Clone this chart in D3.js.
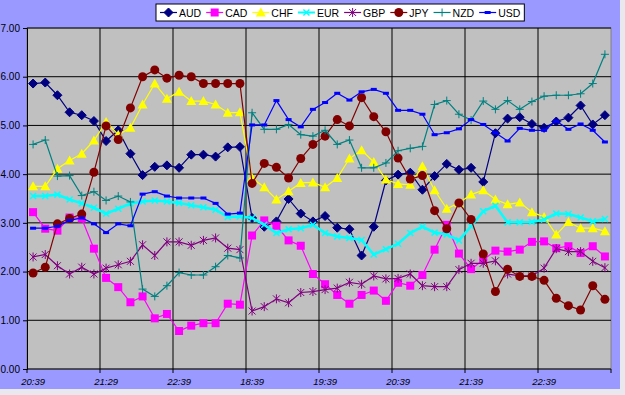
<!DOCTYPE html>
<meta charset="utf-8">
<style>
body{ margin: 0; background: #e8e8ee; }
text{ font-family: "Liberation Sans", Arial, sans-serif; }
.grid line{ stroke: #000; stroke-width: 1; }
</style>
<body>
<script src="https://cdn.jsdelivr.net/npm/d3@7"></script>
<script>

var width = 625,
    height = 395;

var margin = {top: 28, right: 14, bottom: 26, left: 27};

// every 6th category carries a label
var tickLabels = ["20:39", "21:29", "22:39", "18:39", "19:39", "20:39", "21:39", "22:39"];
var nPoints = 48;

var aud = [5.86,5.88,5.62,5.27,5.21,5.09,4.68,4.90,4.42,3.98,4.15,4.18,4.13,4.40,4.40,4.36,4.55,4.56,
  3.10,2.92,3.03,3.49,3.19,3.03,3.14,2.90,2.87,2.33,2.92,3.87,3.99,4.03,3.68,3.96,4.21,4.09,4.13,3.84,
  4.84,5.14,5.17,5.03,4.95,5.08,5.16,5.41,5.02,5.21];
var cad = [3.22,2.88,2.84,3.11,3.09,2.47,1.87,1.68,1.37,1.49,1.04,1.13,0.78,0.89,0.94,0.94,1.34,1.32,
  2.74,3.05,2.94,2.64,2.53,1.95,1.74,1.52,1.34,1.52,1.61,1.40,1.77,1.71,1.93,2.45,2.96,2.37,2.05,2.24,
  2.43,2.41,2.45,2.61,2.62,2.48,2.52,2.38,2.52,2.31];
var chf = [3.75,3.75,4.11,4.28,4.42,4.69,5.07,4.81,4.95,5.43,5.86,5.55,5.69,5.50,5.50,5.43,5.26,5.27,
  3.92,3.73,3.48,3.65,3.82,3.83,3.73,3.92,4.32,4.49,4.25,3.89,3.80,3.78,4.16,3.67,3.29,3.41,3.58,3.67,
  3.48,3.38,3.42,3.22,3.12,2.76,3.02,2.89,2.89,2.83];
var eur = [3.55,3.55,3.58,3.48,3.40,3.31,3.19,3.29,3.40,3.44,3.46,3.44,3.41,3.36,3.32,3.27,3.12,3.13,
  3.10,2.96,2.79,2.87,2.89,2.96,2.79,2.72,2.69,2.65,2.35,2.46,2.57,2.79,2.92,2.80,2.76,2.64,2.93,3.24,
  3.35,3.01,3.01,3.02,3.07,3.19,3.18,3.11,3.03,3.08];
var gbp = [2.30,2.35,2.12,1.95,2.09,1.95,2.07,2.14,2.21,2.55,2.33,2.61,2.61,2.54,2.64,2.69,2.48,2.45,
  1.19,1.28,1.44,1.36,1.57,1.59,1.63,1.66,1.78,1.74,1.91,1.85,1.86,1.95,1.71,1.69,1.69,2.04,2.17,2.17,
  2.22,1.95,1.91,1.91,2.07,2.47,2.41,2.41,2.21,2.08];
var jpy = [1.97,2.09,2.98,3.09,3.18,4.04,4.99,4.71,5.36,6.00,6.14,5.97,6.03,6.00,5.86,5.86,5.86,5.86,
  3.81,4.22,4.14,3.92,4.32,4.61,4.78,5.12,4.99,5.57,5.18,4.87,4.33,3.90,3.97,3.25,2.88,3.41,3.07,2.36,
  1.59,2.05,1.90,1.90,1.82,1.45,1.30,1.21,1.71,1.43];
var nzd = [4.61,4.70,3.96,3.97,3.56,3.64,3.46,3.55,3.43,1.64,1.49,1.71,1.98,1.93,1.93,2.10,2.33,2.28,
  5.26,4.92,4.92,5.02,4.81,4.78,4.90,4.61,4.70,4.13,4.13,4.23,4.48,4.53,4.57,5.43,5.51,5.23,5.11,5.50,
  5.33,5.51,5.33,5.49,5.60,5.62,5.62,5.65,5.86,6.46];
var usd = [2.89,2.89,2.93,3.05,3.10,2.98,2.80,2.98,2.94,3.59,3.64,3.55,3.51,3.51,3.51,3.40,3.18,3.20,
  5.01,5.01,5.51,5.12,4.97,5.33,5.47,5.66,5.52,5.69,5.74,5.66,5.31,5.31,5.23,4.81,4.85,4.93,5.12,5.02,
  4.85,4.68,4.94,4.90,4.90,5.09,4.92,5.03,4.90,4.66];

var series = [
  {name: "AUD", values: aud, color: "#000080", marker: "diamond"},
  {name: "CAD", values: cad, color: "#ff00ff", marker: "square"},
  {name: "CHF", values: chf, color: "#ffff00", marker: "triangle"},
  {name: "EUR", values: eur, color: "#00ffff", marker: "x"},
  {name: "GBP", values: gbp, color: "#800080", marker: "star"},
  {name: "JPY", values: jpy, color: "#800000", marker: "circle"},
  {name: "NZD", values: nzd, color: "#008080", marker: "plus"},
  {name: "USD", values: usd, color: "#0000ff", marker: "dash"}
];

var svg = d3.select("body").append("svg")
    .attr("width", width)
    .attr("height", height);

// chart area
svg.append("rect")
    .attr("x", 0).attr("y", 0)
    .attr("width", 620).attr("height", 389)
    .attr("fill", "#9999ff");

var pw = width - margin.left - margin.right,
    ph = 369 - margin.top;

var x = d3.scaleBand()
    .domain(d3.range(nPoints))
    .range([margin.left, margin.left + pw]);

var y = d3.scaleLinear()
    .domain([0, 7])
    .range([369, margin.top]);

svg.append("rect")
    .attr("x", margin.left).attr("y", margin.top)
    .attr("width", pw).attr("height", ph)
    .attr("fill", "#c0c0c0")
    .attr("stroke", "#808080");

var cx = i => x(i) + x.bandwidth() / 2;

// gridlines
var grid = svg.append("g").attr("class", "grid");
grid.selectAll(".h")
    .data(d3.range(1, 8))
  .enter().append("line")
    .attr("x1", margin.left).attr("x2", margin.left + pw)
    .attr("y1", d => y(d)).attr("y2", d => y(d));
grid.selectAll(".v")
    .data(d3.range(6, nPoints, 6))
  .enter().append("line")
    .attr("x1", d => x(d)).attr("x2", d => x(d))
    .attr("y1", margin.top).attr("y2", 369);

// y axis
var yAxis = svg.append("g")
    .attr("transform", "translate(" + margin.left + ",0)")
    .call(d3.axisLeft(y).ticks(7).tickSize(4).tickFormat(d3.format(".2f")));
yAxis.select(".domain").attr("stroke", "#000");
yAxis.selectAll("text").attr("font-size", 10).attr("fill", "#000")
    .attr("font-family", "Liberation Sans, Arial, sans-serif");

// x axis: ticks at every 6th category boundary
var xAxisG = svg.append("g");
xAxisG.append("line")
    .attr("x1", margin.left).attr("x2", margin.left + pw)
    .attr("y1", 369).attr("y2", 369)
    .attr("stroke", "#000");
xAxisG.selectAll(".tk")
    .data(d3.range(0, nPoints + 1, 6))
  .enter().append("line")
    .attr("x1", d => d < nPoints ? x(d) : margin.left + pw)
    .attr("x2", d => d < nPoints ? x(d) : margin.left + pw)
    .attr("y1", 369).attr("y2", 373)
    .attr("stroke", "#000");
xAxisG.selectAll(".lbl")
    .data(tickLabels)
  .enter().append("text")
    .attr("x", (d, k) => cx(k * 6))
    .attr("y", 385)
    .attr("text-anchor", "middle")
    .attr("font-size", 9.5)
    .attr("font-style", "italic")
    .text(d => d);

// markers
function drawMarker(g, type, color, px, py) {
  if (type == "diamond") {
    g.append("path").attr("d", "M0,-4.5L4.5,0L0,4.5L-4.5,0Z")
      .attr("transform", "translate(" + px + "," + py + ")")
      .attr("fill", color).attr("stroke", color);
  } else if (type == "square") {
    g.append("rect").attr("x", px - 4).attr("y", py - 4)
      .attr("width", 8).attr("height", 8).attr("fill", color);
  } else if (type == "triangle") {
    g.append("path").attr("d", "M0,-5L5,4L-5,4Z")
      .attr("transform", "translate(" + px + "," + py + ")")
      .attr("fill", color);
  } else if (type == "x") {
    g.append("path").attr("d", "M-3,-3L3,3M-3,3L3,-3")
      .attr("transform", "translate(" + px + "," + py + ")")
      .attr("stroke", color).attr("stroke-width", 1.5);
  } else if (type == "star") {
    g.append("path").attr("d", "M-3.5,-3.5L3.5,3.5M-3.5,3.5L3.5,-3.5M0,-4.5L0,4.5")
      .attr("transform", "translate(" + px + "," + py + ")")
      .attr("stroke", color).attr("stroke-width", 1);
  } else if (type == "circle") {
    g.append("circle").attr("cx", px).attr("cy", py).attr("r", 4.5)
      .attr("fill", color);
  } else if (type == "plus") {
    g.append("path").attr("d", "M-4,0L4,0M0,-4L0,4")
      .attr("transform", "translate(" + px + "," + py + ")")
      .attr("stroke", color).attr("stroke-width", 1);
  } else if (type == "dash") {
    g.append("rect").attr("x", px - 3).attr("y", py - 1.5)
      .attr("width", 6).attr("height", 3).attr("fill", color);
  }
}

var line = d3.line()
    .x((d, i) => cx(i))
    .y(d => y(d));

series.forEach(function(s) {
  var g = svg.append("g");
  g.append("path")
    .attr("d", line(s.values))
    .attr("fill", "none")
    .attr("stroke", s.color)
    .attr("stroke-width", s.name == "EUR" ? 2.5 : 1.2);
  s.values.forEach((v, i) => drawMarker(g, s.marker, s.color, cx(i), y(v)));
});

// legend
var legend = svg.append("g");
var box = legend.append("rect")
    .attr("y", 4).attr("height", 17)
    .attr("fill", "#fff").attr("stroke", "#000");
var lx = 160;
series.forEach(function(s) {
  var g = legend.append("g");
  g.append("line").attr("x1", lx).attr("x2", lx + 17)
    .attr("y1", 12.5).attr("y2", 12.5)
    .attr("stroke", s.color).attr("stroke-width", s.name == "EUR" ? 2 : 1.2);
  drawMarker(g, s.marker, s.color, lx + 8.5, 12.5);
  var t = g.append("text").attr("x", lx + 19).attr("y", 16.5)
    .attr("font-size", 10.5).text(s.name);
  lx += 19 + t.node().getComputedTextLength() + 5;
});
box.attr("x", 156).attr("width", lx - 156 - 1);

</script>
